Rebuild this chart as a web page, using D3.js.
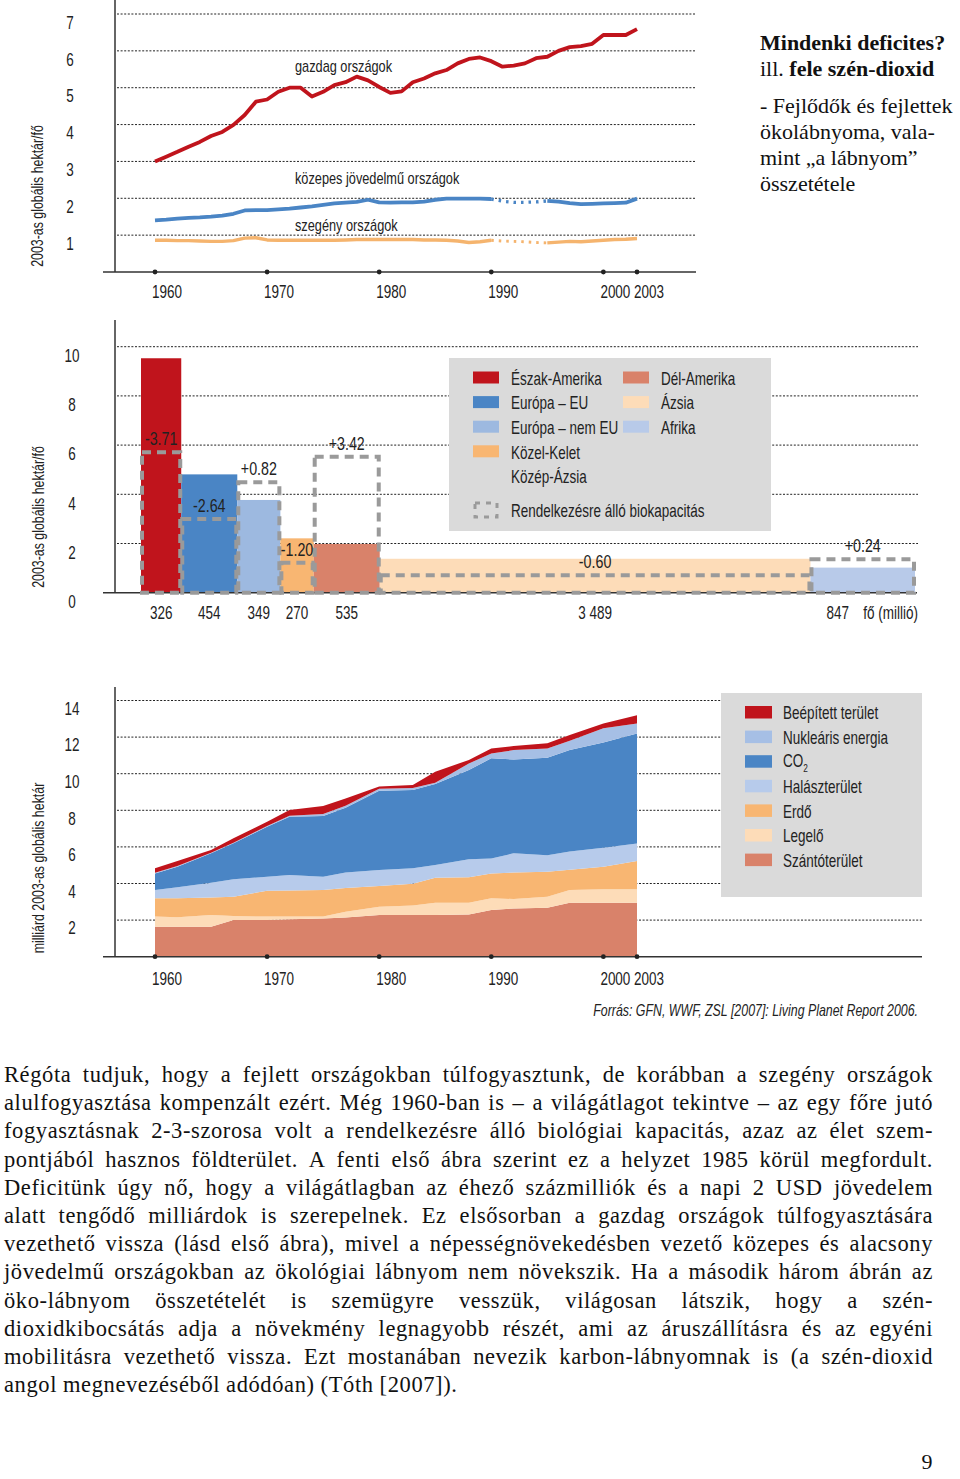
<!DOCTYPE html>
<html><head><meta charset="utf-8">
<script src="https://cdn.jsdelivr.net/npm/d3@7"></script>
<style>body{margin:0;background:#fff}svg{display:block}</style>
</head><body><svg id="c" width="960" height="1479"></svg>
<script>
// ---------- DATA ----------
const years = [1960,1961,1962,1963,1964,1965,1966,1967,1968,1969,1970,1971,1972,1973,1974,1975,1976,1977,1978,1979,1980,1981,1982,1983,1984,1985,1986,1987,1988,1989,1990,1991,1992,1993,1994,1995,1996,1997,1998,1999,2000,2001,2002,2003];
const richFootprint = [3.0,3.13,3.26,3.4,3.53,3.69,3.8,3.99,4.26,4.62,4.68,4.89,5.0,5.0,4.76,4.89,5.07,5.15,5.3,5.2,5.02,4.86,4.9,5.15,5.25,5.39,5.48,5.66,5.78,5.82,5.72,5.57,5.6,5.66,5.8,5.84,6.0,6.1,6.13,6.19,6.43,6.43,6.43,6.59];
const middleFootprint = [1.40,1.42,1.45,1.47,1.48,1.50,1.53,1.58,1.67,1.68,1.68,1.70,1.72,1.75,1.78,1.82,1.86,1.88,1.90,1.96,1.89,1.88,1.89,1.89,1.91,1.96,1.99,1.99,1.99,1.99,1.98,1.92,1.89,1.89,1.90,1.93,1.91,1.87,1.84,1.85,1.86,1.87,1.88,1.99];
const poorFootprint = [0.86,0.86,0.85,0.85,0.84,0.83,0.83,0.85,0.92,0.93,0.87,0.86,0.86,0.86,0.86,0.86,0.86,0.87,0.88,0.88,0.88,0.88,0.88,0.88,0.87,0.87,0.86,0.84,0.80,0.82,0.86,0.84,0.83,0.82,0.80,0.79,0.81,0.83,0.82,0.84,0.86,0.88,0.89,0.91];
const dottedYears = [1990, 1995];
const topXTicks = [1960,1970,1980,1990,2000,2003];
const topYTicks = [1,2,3,4,5,6,7];

const regions = ['Észak-Amerika','Európa – EU','Európa – nem EU','Közel-Kelet Közép-Ázsia','Dél-Amerika','Ázsia','Afrika'];
const population = [326,454,349,270,535,3489,847];
const popLabels = ['326','454','349','270','535','3 489','847'];
const regionFootprint = [9.53,4.81,3.77,2.21,1.98,1.38,1.02];
const regionBiocapacity = [5.71,3.0,4.49,1.22,5.53,0.71,1.36];
const balanceLabels = ['-3.71','-2.64','+0.82','-1.20','+3.42','-0.60','+0.24'];
const midYTicks = [0,2,4,6,8,10];

const stackYears = [1960,1962,1965,1967,1970,1972,1975,1977,1980,1983,1985,1988,1990,1992,1995,1997,2000,2003];
const cropland = [1.64,1.64,1.64,2.0,2.0,2.05,2.09,2.14,2.28,2.28,2.28,2.31,2.55,2.64,2.68,2.95,2.95,2.95];
const grazing  = [0.55,0.51,0.64,0.22,0.19,0.14,0.10,0.32,0.45,0.52,0.67,0.64,0.64,0.51,0.60,0.69,0.73,0.73];
const forest   = [1.00,1.05,0.96,1.06,1.42,1.43,1.45,1.29,1.13,1.18,1.37,1.39,1.36,1.45,1.36,1.11,1.24,1.55];
const fishing  = [0.45,0.60,0.80,0.95,0.76,0.84,0.73,0.85,0.88,0.85,0.69,0.98,0.82,1.05,0.91,1.00,1.04,0.96];
const co2      = [0.91,1.12,1.61,1.97,2.73,3.19,3.32,3.54,4.33,4.28,4.43,4.88,5.47,5.13,5.32,5.55,5.75,6.01];
const nuclear  = [0.04,0.03,0.03,0.03,0.04,0.05,0.11,0.11,0.11,0.11,0.07,0.36,0.27,0.51,0.51,0.50,0.77,0.55];
const builtUp  = [0.24,0.28,0.15,0.24,0.24,0.31,0.43,0.40,0.12,0.16,0.60,0.19,0.27,0.22,0.28,0.31,0.27,0.45];
const layerNames = ['Szántóterület','Legelő','Erdő','Halászterület','CO2','Nukleáris energia','Beépített terület'];
const botYTicks = [2,4,6,8,10,12,14];

const bodyLines = [
"Régóta tudjuk, hogy a fejlett országokban túlfogyasztunk, de korábban a szegény országok",
"alulfogyasztása kompenzált ezért. Még 1960-ban is – a világátlagot tekintve – az egy főre jutó",
"fogyasztásnak 2-3-szorosa volt a rendelkezésre álló biológiai kapacitás, azaz az élet szem-",
"pontjából hasznos földterület. A fenti első ábra szerint ez a helyzet 1985 körül megfordult.",
"Deficitünk úgy nő, hogy a világátlagban az éhező százmilliók és a napi 2 USD jövedelem",
"alatt tengődő milliárdok is szerepelnek. Ez elsősorban a gazdag országok túlfogyasztására",
"vezethető vissza (lásd első ábra), mivel a népességnövekedésben vezető közepes és alacsony",
"jövedelmű országokban az ökológiai lábnyom nem növekszik. Ha a második három ábrán az",
"öko-lábnyom összetételét is szemügyre vesszük, világosan látszik, hogy a szén-",
"dioxidkibocsátás adja a növekmény legnagyobb részét, ami az áruszállításra és az egyéni",
"mobilitásra vezethető vissza. Ezt mostanában nevezik karbon-lábnyomnak is (a szén-dioxid",
"angol megnevezéséből adódóan) (Tóth [2007])."
];

// ---------- STYLE ----------
const RED='#c0141c', BLUE='#4a85c5', LBLUE='#9db9e0', ORANGE='#f8b672', SALMON='#d9826a', PEACH='#fddcb8', LAV='#b8cae9';
const regionColors = [RED, BLUE, LBLUE, ORANGE, SALMON, PEACH, LAV];
const layerColors = [SALMON, PEACH, ORANGE, '#b7cbeb', BLUE, '#a6bfe5', RED];
const NARROW = 'Liberation Sans, Arial, sans-serif';
const SERIF = 'Liberation Serif, Times New Roman, serif';
const NS = 0.75;
const LEG_BG = '#dadada';

const svg = d3.select('#c');

function ntext(g, x, y, s, o = {}) {
  const t = g.append('text')
    .attr('transform', `translate(${x},${y})${o.rotate ? ` rotate(${o.rotate})` : ''} scale(${NS},1)`)
    .attr('font-family', NARROW)
    .attr('font-size', o.size || 17)
    .attr('fill', o.fill || '#222')
    .attr('text-anchor', o.anchor || 'start')
    .attr('dominant-baseline', 'central');
  if (o.style) t.attr('font-style', o.style);
  t.text(s);
  return t;
}
function grid(g, y, vals, x0, x1) {
  g.selectAll(null).data(vals).join('line')
    .attr('x1', x0).attr('x2', x1)
    .attr('y1', d => y(d)).attr('y2', d => y(d))
    .attr('stroke', '#222').attr('stroke-width', 1).attr('stroke-dasharray', '2,1.6');
}
function axisLines(g, xAxis, y0, x0, x1, yTop) {
  g.append('line').attr('x1', x0).attr('x2', x1).attr('y1', y0).attr('y2', y0).attr('stroke', '#333').attr('stroke-width', 1.5);
  g.append('line').attr('x1', xAxis).attr('x2', xAxis).attr('y1', yTop).attr('y2', y0).attr('stroke', '#333').attr('stroke-width', 1.5);
}

// ---------- TOP CHART ----------
{
  const g = svg.append('g');
  const x = d3.scaleLinear().domain([1960, 2003]).range([155, 637]);
  const y = d3.scaleLinear().domain([0, 7]).range([272, 14]);
  grid(g, y, topYTicks, 117, 696);
  axisLines(g, 115, 272, 103, 696, 0);
  topYTicks.forEach(v => ntext(g, 70, y(v) + 8.5, String(v), {size: 18, anchor: 'middle'}));
  topXTicks.forEach(v => {
    g.append('circle').attr('cx', x(v)).attr('cy', 272).attr('r', 2.4).attr('fill', '#222');
    ntext(g, x(v) + 12, 292, String(v), {size: 18, anchor: 'middle'});
  });
  ntext(g, 37, 196, '2003-as globális hektár/fő', {size: 16.5, anchor: 'middle', rotate: -90});

  const line = d3.line().x(d => x(d[0])).y(d => y(d[1]));
  const pts = arr => years.map((yr, i) => [yr, arr[i]]);
  function drawSeries(arr, color, w, gap) {
    const p = pts(arr);
    if (!gap) {
      g.append('path').attr('d', line(p)).attr('fill', 'none').attr('stroke', color).attr('stroke-width', w).attr('stroke-linejoin', 'round');
      return;
    }
    const a = p.filter(d => d[0] <= dottedYears[0]);
    const b = p.filter(d => d[0] >= dottedYears[0] && d[0] <= dottedYears[1]);
    const c = p.filter(d => d[0] >= dottedYears[1]);
    [a, c].forEach(s => g.append('path').attr('d', line(s)).attr('fill', 'none').attr('stroke', color).attr('stroke-width', w).attr('stroke-linejoin', 'round'));
    g.append('path').attr('d', line(b)).attr('fill', 'none').attr('stroke', color).attr('stroke-width', w - 0.5).attr('stroke-dasharray', '2.5,5');
  }
  drawSeries(poorFootprint, '#f5b46e', 3.4, true);
  drawSeries(middleFootprint, BLUE, 3.8, true);
  drawSeries(richFootprint, RED, 3.8, false);
  ntext(g, 295, 66, 'gazdag országok', {size: 17});
  ntext(g, 295, 178, 'közepes jövedelmű országok', {size: 17});
  ntext(g, 295, 225, 'szegény országok', {size: 17});

  // side annotation
  const tx = svg.append('g').attr('font-family', SERIF).attr('font-size', 22).attr('fill', '#111');
  tx.append('text').attr('x', 760).attr('y', 50).attr('font-weight', 'bold').text('Mindenki deficites?');
  const l2 = tx.append('text').attr('x', 760).attr('y', 76);
  l2.append('tspan').text('ill. ');
  l2.append('tspan').attr('font-weight', 'bold').text('fele szén-dioxid');
  ['- Fejlődők és fejlettek', 'ökolábnyoma, vala-', 'mint „a lábnyom”', 'összetétele'].forEach((s, i) =>
    tx.append('text').attr('x', 760).attr('y', 113 + i * 26).text(s));
}

// ---------- MIDDLE CHART ----------
{
  const g = svg.append('g');
  const total = d3.sum(population);
  const cum = [0, ...d3.cumsum(population)];
  const x = d3.scaleLinear().domain([0, total]).range([141, 915]);
  const y = d3.scaleLinear().domain([0, 10]).range([592.7, 346.7]);
  grid(g, y, midYTicks.filter(v => v > 0), 117, 918);
  midYTicks.forEach(v => ntext(g, 72, y(v) + 9, String(v), {size: 18, anchor: 'middle'}));
  ntext(g, 38, 517, '2003-as globális hektár/fő', {size: 16.5, anchor: 'middle', rotate: -90});

  const data = regions.map((r, i) => ({r, i, x0: x(cum[i]), x1: x(cum[i + 1]), fp: regionFootprint[i], bio: regionBiocapacity[i]}));
  g.selectAll('rect.bar').data(data).join('rect').attr('class', 'bar')
    .attr('x', d => d.x0).attr('width', d => d.x1 - d.x0)
    .attr('y', d => y(d.fp)).attr('height', d => y(0) - y(d.fp))
    .attr('fill', d => regionColors[d.i]);
  axisLines(g, 115, 592.7, 103, 917, 320);
  g.selectAll('rect.bio').data(data).join('rect').attr('class', 'bio')
    .attr('x', d => d.x0 + 1).attr('width', d => d.x1 - d.x0 - 2)
    .attr('y', d => y(d.bio)).attr('height', d => y(0) - y(d.bio))
    .attr('fill', 'none').attr('stroke', '#9a9a9a').attr('stroke-width', 4).attr('stroke-dasharray', '9,6');
  data.forEach(d => {
    ntext(g, (d.x0 + d.x1) / 2, y(d.bio) - 13, balanceLabels[d.i], {size: 19, anchor: 'middle'});
    if (d.i < data.length - 1) ntext(g, (d.x0 + d.x1) / 2, 613, popLabels[d.i], {size: 18, anchor: 'middle'});
    else ntext(g, d.x1 - 66, 613, popLabels[d.i], {size: 18, anchor: 'end'});
  });
  ntext(g, 918, 613, 'fő (millió)', {size: 18, anchor: 'end'});

  // legend
  const lg = g.append('g');
  lg.append('rect').attr('x', 449).attr('y', 358).attr('width', 322).attr('height', 173).attr('fill', LEG_BG);
  const items = [
    {c: 0, row: 0, i: 0, t: 'Észak-Amerika'}, {c: 0, row: 1, i: 1, t: 'Európa – EU'},
    {c: 0, row: 2, i: 2, t: 'Európa – nem EU'}, {c: 0, row: 3, i: 3, t: 'Közel-Kelet'},
    {c: 1, row: 0, i: 4, t: 'Dél-Amerika'}, {c: 1, row: 1, i: 5, t: 'Ázsia'}, {c: 1, row: 2, i: 6, t: 'Afrika'}];
  items.forEach(it => {
    const sx = it.c ? 623 : 473, cy = 377.5 + it.row * 24.6;
    lg.append('rect').attr('x', sx).attr('y', cy - 6).attr('width', 26).attr('height', 12).attr('fill', regionColors[it.i]);
    ntext(lg, sx + 38, cy + 1, it.t, {size: 18});
  });
  ntext(lg, 511, 477, 'Közép-Ázsia', {size: 18});
  lg.append('rect').attr('x', 475).attr('y', 503).attr('width', 22).attr('height', 14)
    .attr('fill', 'none').attr('stroke', '#9a9a9a').attr('stroke-width', 3).attr('stroke-dasharray', '5,6');
  ntext(lg, 511, 511, 'Rendelkezésre álló biokapacitás', {size: 18});
}

// ---------- BOTTOM CHART ----------
{
  const g = svg.append('g');
  const x = d3.scaleLinear().domain([1960, 2003]).range([155, 637]);
  const y = d3.scaleLinear().domain([0, 14]).range([956.7, 700.5]);
  const layers = [cropland, grazing, forest, fishing, co2, nuclear, builtUp];
  const rows = stackYears.map((yr, i) => {
    const o = {year: yr};
    layerNames.forEach((n, k) => o[n] = layers[k][i]);
    return o;
  });
  const stack = d3.stack().keys(layerNames)(rows);
  grid(g, y, botYTicks, 117, 922);
  const area = d3.area().x(d => x(d.data.year)).y0(d => y(d[0])).y1(d => y(d[1]));
  g.selectAll('path.layer').data(stack).join('path').attr('class', 'layer')
    .attr('d', area).attr('fill', (d, i) => layerColors[i]);
  axisLines(g, 115, 956.7, 103, 922, 687);
  botYTicks.forEach(v => ntext(g, 72, y(v) + 8, String(v), {size: 18, anchor: 'middle'}));
  topXTicks.forEach(v => {
    g.append('circle').attr('cx', x(v)).attr('cy', 956.7).attr('r', 2.4).attr('fill', '#222');
    ntext(g, x(v) + 12, 979, String(v), {size: 18, anchor: 'middle'});
  });
  ntext(g, 38, 868, 'milliárd 2003-as globális hektár', {size: 16.5, anchor: 'middle', rotate: -90});
  ntext(g, 918, 1010, 'Forrás: GFN, WWF, ZSL [2007]: Living Planet Report 2006.', {size: 16.5, anchor: 'end', style: 'italic'});

  const lg = g.append('g');
  lg.append('rect').attr('x', 721).attr('y', 693).attr('width', 201).attr('height', 204).attr('fill', LEG_BG);
  const order = [6, 5, 4, 3, 2, 1, 0];
  const legNames = {0: 'Szántóterület', 1: 'Legelő', 2: 'Erdő', 3: 'Halászterület', 5: 'Nukleáris energia', 6: 'Beépített terület'};
  order.forEach((k, r) => {
    const cy = 712 + r * 24.6;
    lg.append('rect').attr('x', 745).attr('y', cy - 6).attr('width', 27).attr('height', 12.5).attr('fill', layerColors[k]);
    if (k === 4) {
      const t = ntext(lg, 783, cy - 1, '', {size: 18});
      t.append('tspan').text('CO');
      t.append('tspan').attr('font-size', 11).attr('dy', 7).text('2');
    } else ntext(lg, 783, cy + 1, legNames[k], {size: 18});
  });
}

// ---------- BODY TEXT ----------
{
  const x0 = 4, x1 = 933, y0 = 1082, lh = 28.2;
  bodyLines.forEach((ln, i) => {
    const t = svg.append('text').attr('y', y0 + i * lh).attr('font-family', SERIF)
      .attr('font-size', 22.5).attr('letter-spacing', 0.6).attr('fill', '#111');
    const words = ln.split(' ');
    const spans = words.map(w => t.append('tspan').text(w));
    const widths = spans.map(s => s.node().getComputedTextLength());
    const tot = d3.sum(widths);
    const last = i === bodyLines.length - 1;
    const gap = last ? 6 : (x1 - x0 - tot) / (words.length - 1);
    let xx = x0;
    spans.forEach((s, j) => { s.attr('x', xx); xx += widths[j] + gap; });
  });
  svg.append('text').attr('x', 927).attr('y', 1469).attr('text-anchor', 'middle')
    .attr('font-family', SERIF).attr('font-size', 22).attr('fill', '#111').text('9');
}
</script></body></html>
